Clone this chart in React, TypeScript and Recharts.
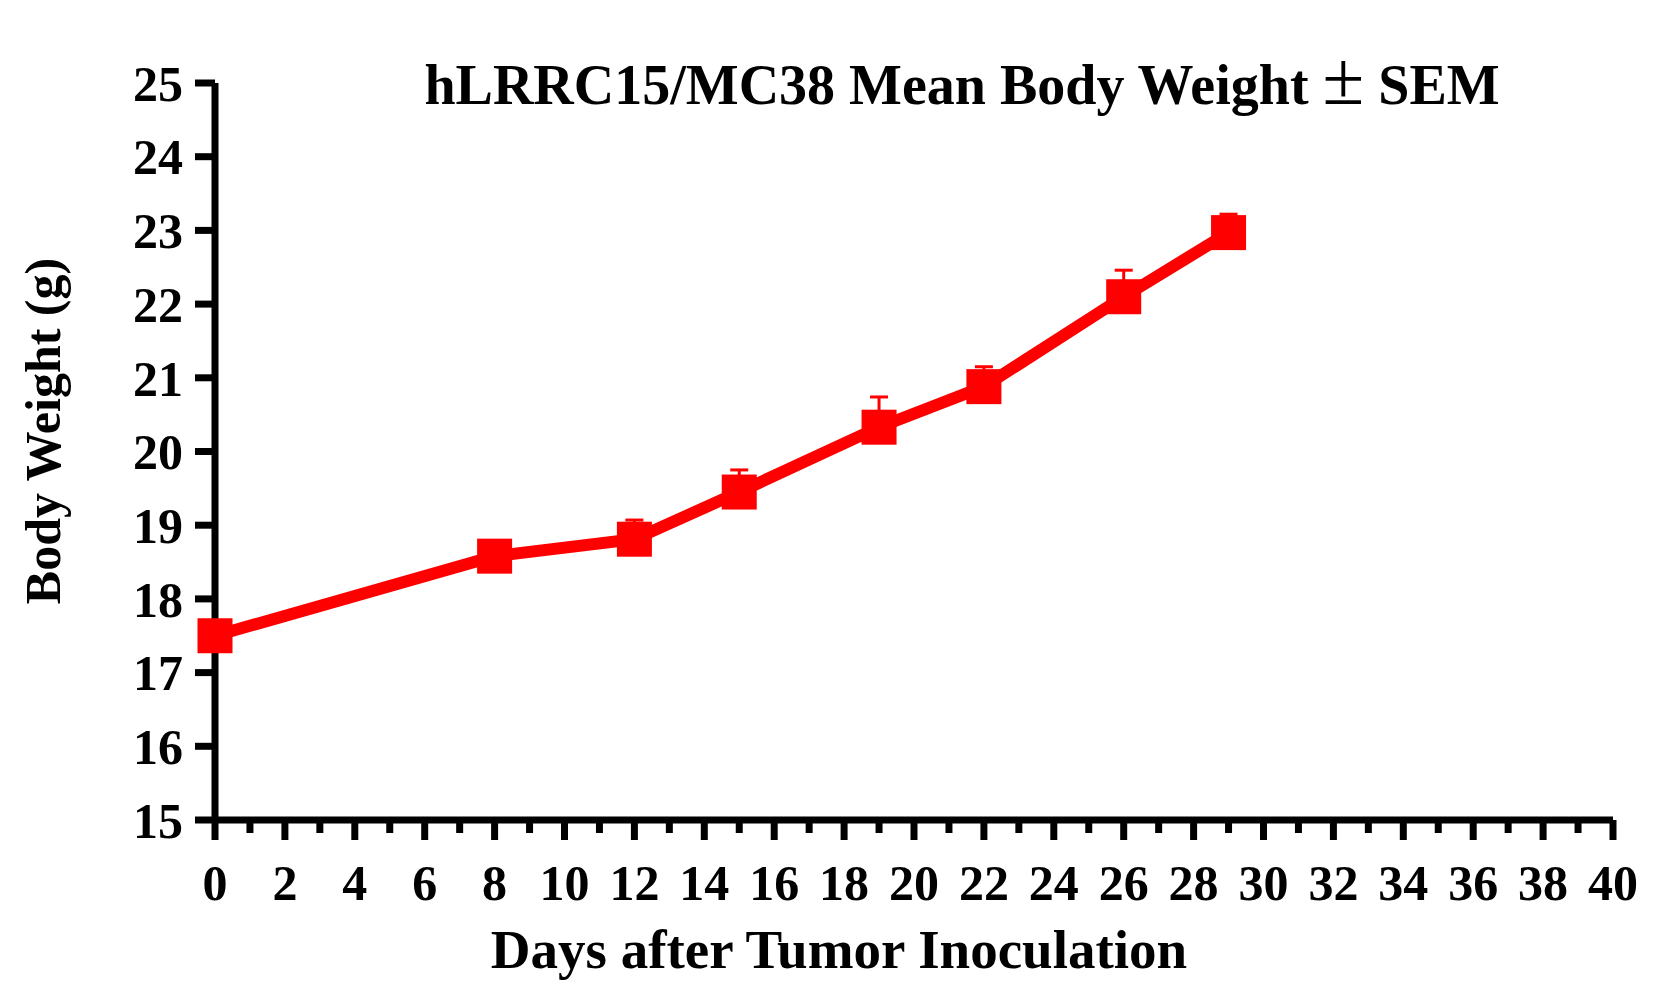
import { LineChart, Line, XAxis, YAxis, ErrorBar } from "recharts"

const days = [0, 8, 12, 15, 19, 22, 26, 29]
const weights = [17.5, 18.58, 18.81, 19.45, 20.33, 20.88, 22.1, 22.97]
const sems = [0.1, 0.12, 0.26, 0.3, 0.41, 0.27, 0.36, 0.25]

const dayTicks = Array.from({ length: 41 }, (_, i) => i)
const weightTicks = [15, 16, 17, 18, 19, 20, 21, 22, 23, 24, 25]

const data = days.map((day, i) => ({ day, weight: weights[i], sem: sems[i] }))

const serif = '"Liberation Serif", "Times New Roman", serif'
const red = "#ff0000"

function DayTick({ x, y, payload }: any) {
  const v = payload.value
  const major = v % 2 === 0
  return (
    <g>
      <line x1={x} x2={x} y1={y} y2={y + (major ? 20 : 13)} stroke="#000" strokeWidth={7} />
      {major && (
        <text x={x} y={y + 80} textAnchor="middle" fontFamily={serif} fontWeight="bold" fontSize={50} fill="#000">
          {v}
        </text>
      )}
    </g>
  )
}

function SquareDot({ cx, cy }: any) {
  return <rect x={cx - 17.5} y={cy - 17.5} width={35} height={35} fill={red} />
}

export default function App() {
  return (
    <div style={{ position: "absolute", left: 0, top: 0, background: "#fff" }}>
      <LineChart
        width={1678}
        height={994}
        data={data}
        margin={{ top: 83, right: 65, bottom: 94, left: 135 }}
      >
        <XAxis
          dataKey="day"
          type="number"
          domain={[0, 40]}
          ticks={dayTicks}
          interval={0}
          height={80}
          tickSize={0}
          tickMargin={0}
          tickLine={false}
          axisLine={{ stroke: "#000", strokeWidth: 7 }}
          tick={<DayTick />}
        />
        <YAxis
          type="number"
          domain={[15, 25]}
          ticks={weightTicks}
          interval={0}
          width={80}
          tickSize={20}
          tickMargin={12}
          axisLine={{ stroke: "#000", strokeWidth: 7 }}
          tickLine={{ stroke: "#000", strokeWidth: 7 }}
          tick={{ fill: "#000", fontSize: 50, fontWeight: "bold", fontFamily: serif }}
        />
        <Line
          dataKey="weight"
          stroke={red}
          strokeWidth={12}
          dot={(p: any) => <SquareDot key={`d-${p.index}`} {...p} />}
          activeDot={false}
          isAnimationActive={false}
        >
          <ErrorBar
            dataKey={(d: any) => [0, d.sem]}
            direction="y"
            width={9}
            strokeWidth={3}
            stroke={red}
            isAnimationActive={false}
          />
        </Line>
        <text x={962} y={104} textAnchor="middle" fontFamily={serif} fontWeight="bold" fontSize={56} fill="#000">
          hLRRC15/MC38 Mean Body Weight <tspan fontWeight="normal" fontSize={76}>±</tspan> SEM
        </text>
        <text x={839} y={968} textAnchor="middle" fontFamily={serif} fontWeight="bold" fontSize={55} fill="#000">
          Days after Tumor Inoculation
        </text>
        <text
          x={60}
          y={431}
          transform="rotate(-90 60 431)"
          textAnchor="middle"
          fontFamily={serif}
          fontWeight="bold"
          fontSize={50}
          fill="#000"
        >
          Body Weight (g)
        </text>
      </LineChart>
    </div>
  )
}
